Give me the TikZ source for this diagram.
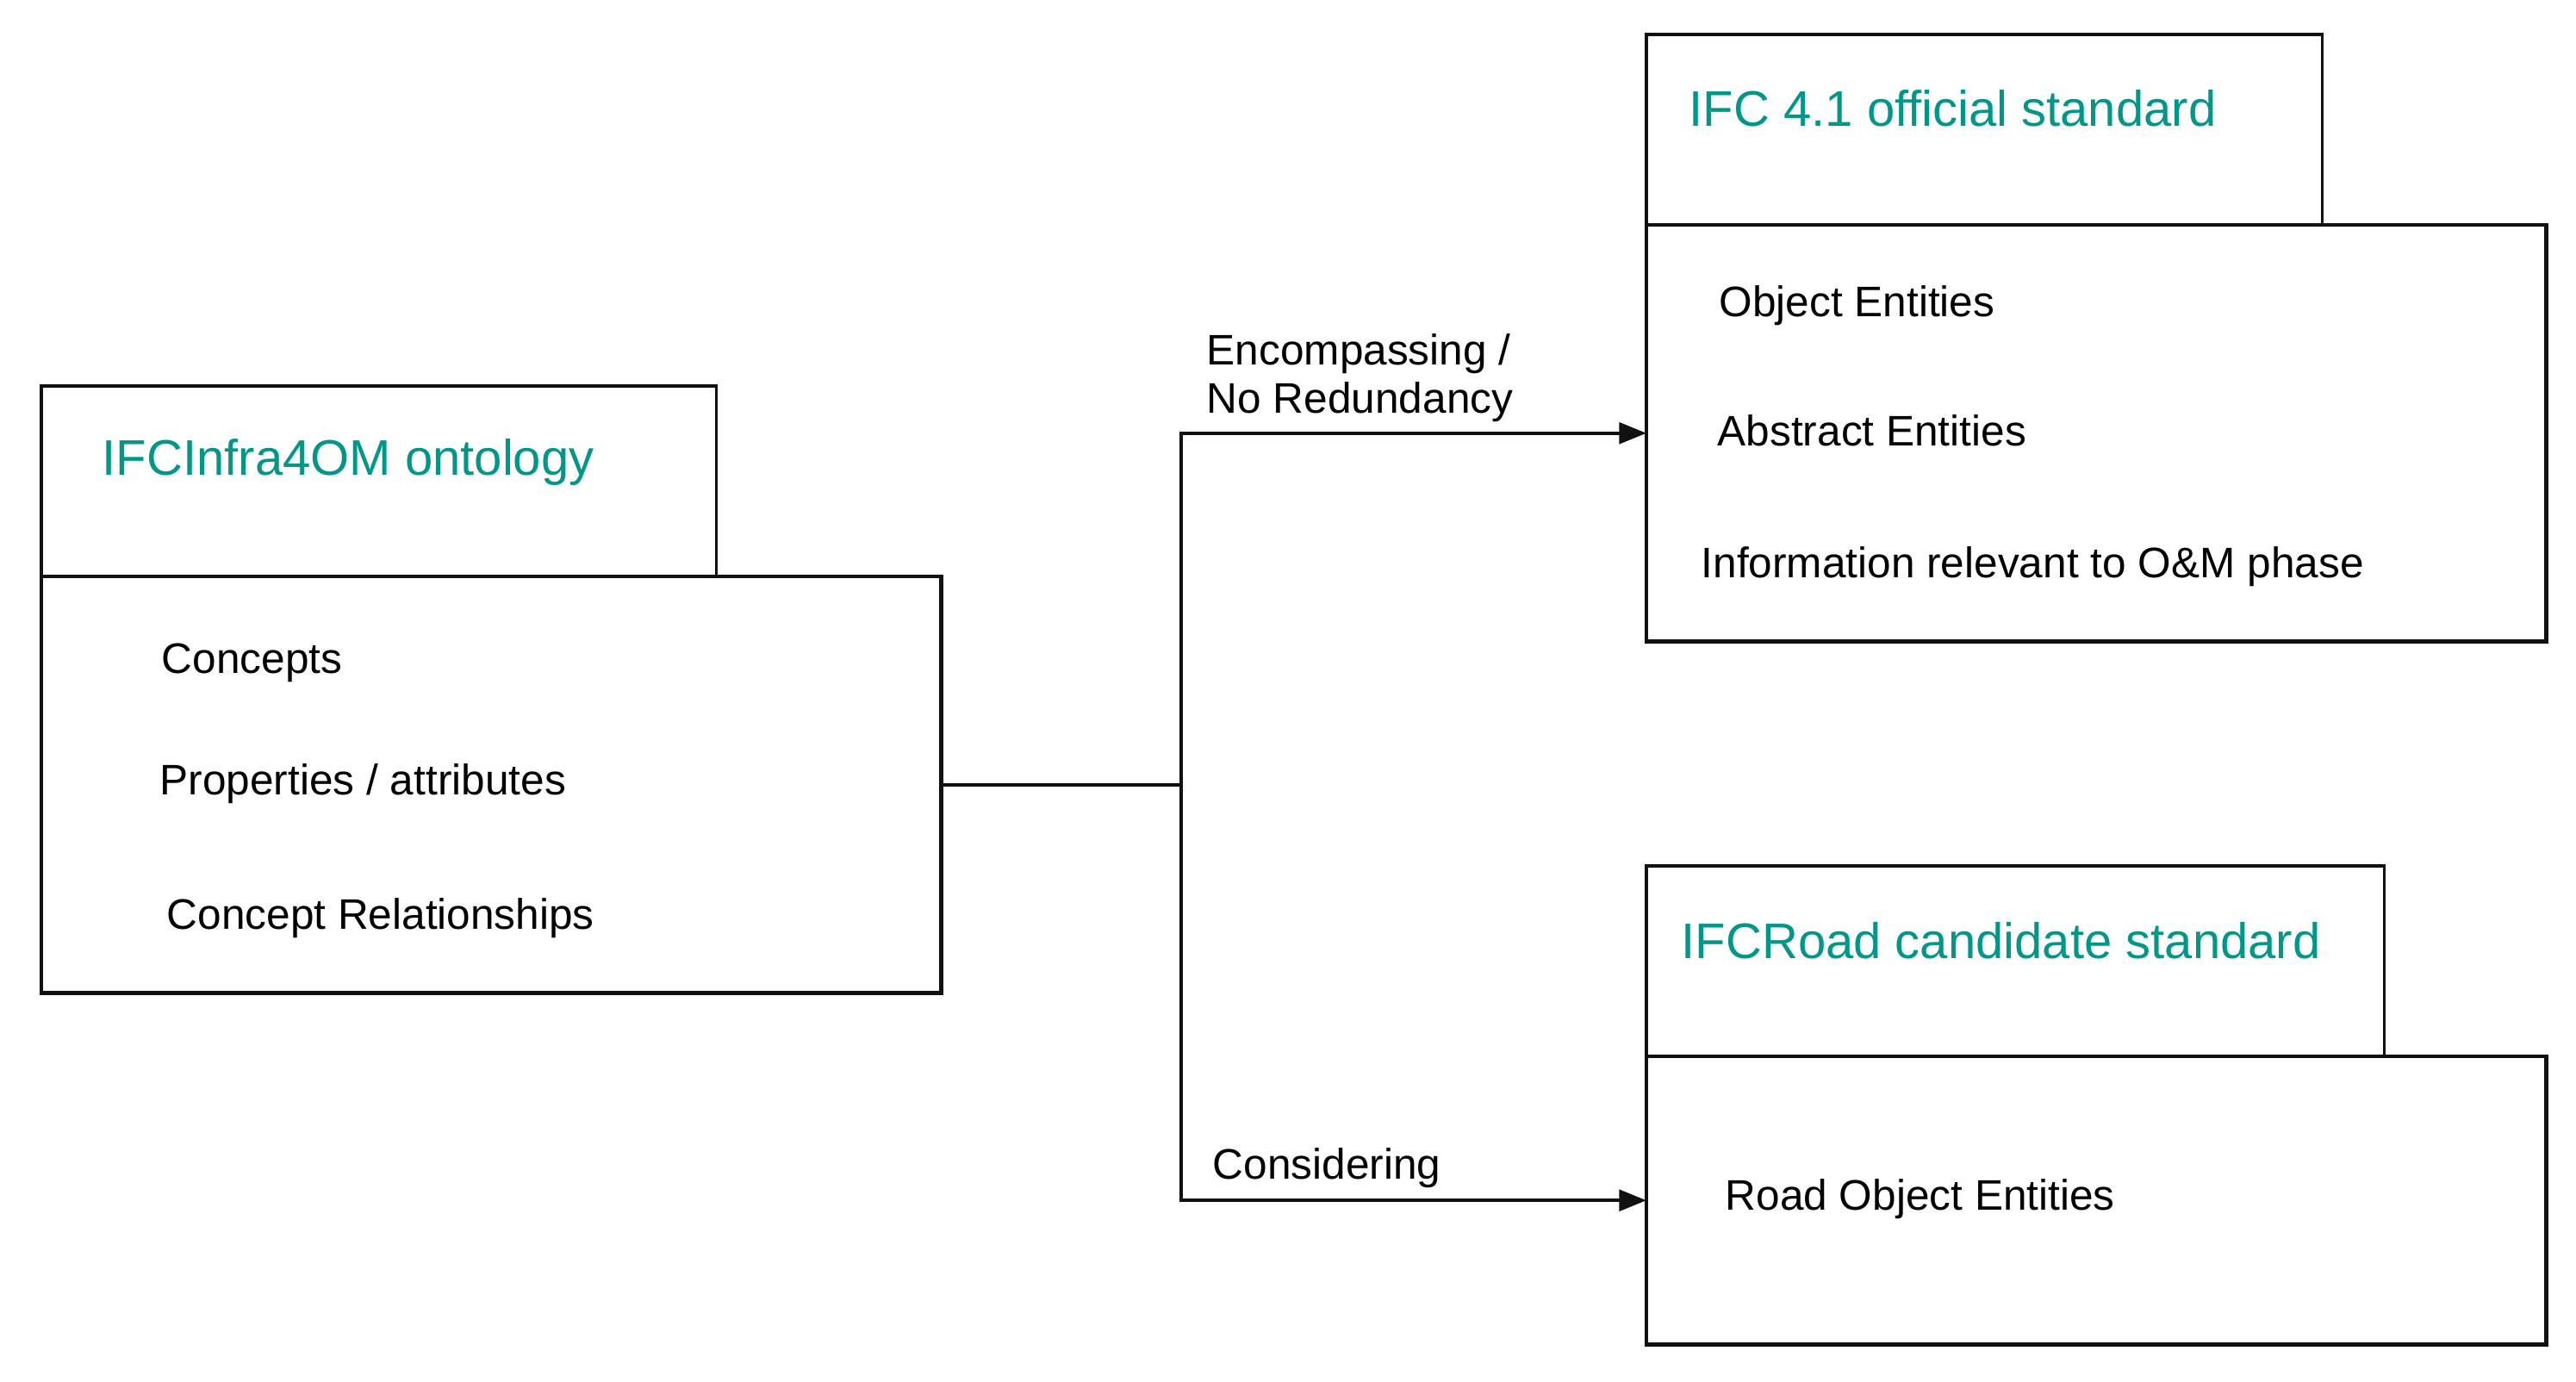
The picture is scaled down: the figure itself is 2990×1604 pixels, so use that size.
\documentclass[tikz,border=0pt]{standalone}
\usepackage{fontspec}
\setmainfont{Liberation Sans}
\usetikzlibrary{positioning,arrows.meta}
\definecolor{ifcteal}{HTML}{009688}
\definecolor{linea}{HTML}{111111}

\begin{document}
\begin{tikzpicture}[x=0.01cm,y=-0.01cm,
      tab/.style={draw=linea,line width=1pt,outer sep=0pt,inner sep=0pt,
                  minimum width=#1,minimum height=2.21cm},
      body/.style={draw=linea,line width=1.3pt,outer sep=0pt,inner sep=0pt,
                   minimum width=10.44cm},
      head/.style={anchor=west,inner sep=0pt,text=ifcteal,
                   font=\fontsize{16.5}{19}\selectfont},
      entry/.style={anchor=west,inner sep=0pt,
                    font=\fontsize{14.1}{16}\selectfont},
      lbl/.style={entry,align=left},
      fl/.style={-{Triangle[length=9pt,width=7pt]},draw=linea,line width=1.1pt}]
    \useasboundingbox (0,0) rectangle (2990,1604);
    % ontology
    \node[tab=7.83cm,anchor=north west] (tab1) at (48,448) {};
    \node[body,minimum height=4.83cm,below right=0pt and 0pt of tab1.south west] (main1) {};
    \node[head] (h1) at (118,537) {IFCInfra4OM ontology};
    \node[entry] (e11) at (187,769) {Concepts};
    \node[entry] (e12) at (185,910) {Properties / attributes};
    \node[entry] (e13) at (193,1066) {Concept Relationships};
    % IFC 4.1
    \node[tab=7.84cm,anchor=north west] (tab2) at (1911,40) {};
    \node[body,minimum height=4.83cm,below right=0pt and 0pt of tab2.south west] (main2) {};
    \node[head] (h2) at (1960,126) {IFC 4.1 official standard};
    \node[entry] (e21) at (1995,355) {Object Entities};
    \node[entry] (e22) at (1993,500) {Abstract Entities};
    \node[entry] (e23) at (1974,658) {Information relevant to O\&M phase};
    % IFCRoad
    \node[tab=8.56cm,anchor=north west] (tab3) at (1911,1005) {};
    \node[body,minimum height=3.34cm,below right=0pt and 0pt of tab3.south west] (main3) {};
    \node[head] (h3) at (1951,1092) {IFCRoad candidate standard};
    \node[entry] (e31) at (2002,1392) {Road Object Entities};
    % connectors
    \coordinate (split) at (1371,0 |- main1.east);
    \draw[fl,-] (main1.east) -- (split);
    \draw[fl] (split) |- (main2.west);
    \draw[fl] (split) |- (main3.west);
    \node[lbl] (l1) at (1400,439) {Encompassing /\\No Redundancy};
    \node[lbl] (l2) at (1407,1356) {Considering};
  \end{tikzpicture}
\end{document}
